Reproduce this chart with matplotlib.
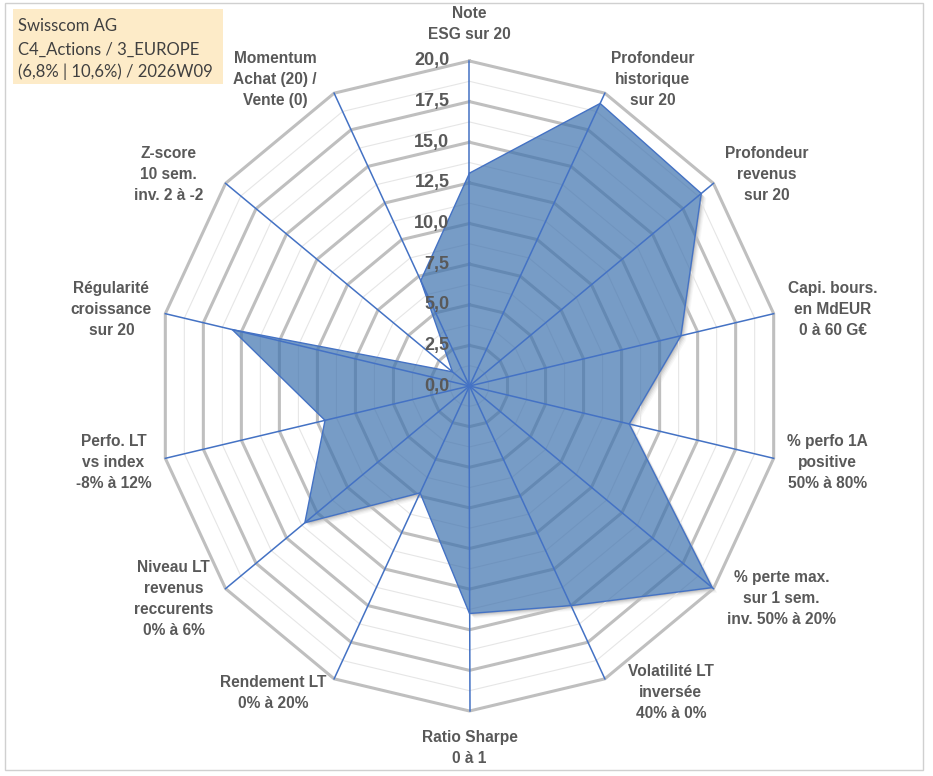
import numpy as np
import matplotlib
matplotlib.use("Agg")
import matplotlib.pyplot as plt
from matplotlib.patches import Rectangle
import matplotlib.transforms as mtransforms

# ---------------- data ----------------
categories = [
    "Note\nESG sur 20",
    "Profondeur\nhistorique\nsur 20",
    "Profondeur\nrevenus\nsur 20",
    "Capi. bours.\nen MdEUR\n0 à 60 G€",
    "% perfo 1A\npositive\n50% à 80%",
    "% perte max.\nsur 1 sem.\ninv. 50% à 20%",
    "Volatilité LT\ninversée\n40% à 0%",
    "Ratio Sharpe\n0 à 1",
    "Rendement LT\n0% à 20%",
    "Niveau LT\nrevenus\nreccurents\n0% à 6%",
    "Perfo. LT\nvs index\n-8% à 12%",
    "Régularité\ncroissance\nsur 20",
    "Z-score\n10 sem.\ninv. 2 à -2",
    "Momentum\nAchat (20) /\nVente (0)",
]
values = [13.1, 19.3, 19.0, 13.9, 10.5, 19.9, 15.0, 14.0, 7.3, 13.5, 9.5, 15.6, 1.4, 7.2]
tick_values = [0.0, 2.5, 5.0, 7.5, 10.0, 12.5, 15.0, 17.5, 20.0]
tick_labels = ["0,0", "2,5", "5,0", "7,5", "10,0", "12,5", "15,0", "17,5", "20,0"]
title_lines = ["Swisscom AG", "C4_Actions / 3_EUROPE", "(6,8% | 10,6%) / 2026W09"]

# ---------------- layout ----------------
W, H = 933, 776
CX, CY = 469.5, 386.0      # centre in pixels (from top-left)
RX, RY = 312.0, 325.0      # pixel radius of the outer ring (x / y)
RMAX = tick_values[-1]

# label centre offsets (pixels, x right / y down) from each outer corner
label_offsets = [(0, -37), (48, -14), (53, -9), (59, -4), (54, 4), (68, 10), (66, 14),
                 (0, 37), (-61, 14), (-52, 10), (-52, 4), (-54, -4), (-57, -9), (-59, -14)]

fig = plt.figure(figsize=(W / 100, H / 100), dpi=100)
fig.patch.set_facecolor("white")
ax = fig.add_axes([0, 0, 1, 1])
ax.set_xlim(-CX / RX * RMAX, (W - CX) / RX * RMAX)
ax.set_ylim(-(H - CY) / RY * RMAX, CY / RY * RMAX)
ax.set_aspect("auto")
ax.axis("off")

n = len(categories)
ang = np.arange(n) * 2 * np.pi / n
sx, cy = np.sin(ang), np.cos(ang)


def ring(r):
    return np.append(r * sx, r * sx[0]), np.append(r * cy, r * cy[0])


# minor rings
for lev in np.arange(tick_values[1] / 2, RMAX, tick_values[1]):
    x, y = ring(lev)
    ax.plot(x, y, color="#E6E6E6", lw=0.8, zorder=1)
# major rings
for lev in tick_values[1:]:
    x, y = ring(lev)
    ax.plot(x, y, color="#BFBFBF", lw=2.2, zorder=1.2, solid_joinstyle="miter")

# data polygon
v = np.array(values)
px, py = v * sx, v * cy
# soft shadow
for off, a in [(1, 0.10), (2, 0.08), (3, 0.06), (4, 0.04), (5, 0.03)]:
    tr = mtransforms.offset_copy(ax.transData, fig=fig, x=off, y=-off, units="dots")
    ax.fill(px, py, color="black", alpha=a, lw=0, transform=tr, zorder=0.5)
ax.fill(px, py, color="white", lw=0, zorder=0.7)
ax.fill(px, py, color="#3E72AE", alpha=0.7, lw=0, zorder=2)
ax.plot(np.append(px, px[0]), np.append(py, py[0]), color="#4472C4", lw=1.0, zorder=2.5)

# spokes
for i in range(n):
    ax.plot([0, RMAX * sx[i]], [0, RMAX * cy[i]], color="#4472C4", lw=1.1, zorder=3)

# radial tick labels
for tv, tl in zip(tick_values, tick_labels):
    ax.annotate(tl, xy=(0, tv), xytext=(-20, 0), textcoords="offset pixels",
                ha="right", va="center", fontsize=13, fontweight="bold",
                color="#595959", family="Liberation Sans", zorder=5)

# category labels
for i, lab in enumerate(categories):
    dx, dy = label_offsets[i]
    ax.annotate(lab, xy=(RMAX * sx[i], RMAX * cy[i]), xytext=(dx, -dy),
                textcoords="offset pixels", ha="center", va="center",
                multialignment="center", fontsize=11.2, fontweight="bold",
                color="#595959", family="Liberation Sans", linespacing=1.5, zorder=5)

# title box
def fx(p):
    return p / W


def fy(p):
    return 1 - p / H


fig.patches.append(Rectangle((fx(13), fy(84)), fx(223) - fx(13), fy(9) - fy(84),
                             transform=fig.transFigure, facecolor="#FDEBC8",
                             edgecolor="none", zorder=0))
for txt, base in zip(title_lines, [31, 54.5, 77]):
    fig.text(fx(18), fy(base), txt, ha="left", va="baseline", fontsize=12,
             family="Lato", color="#404040")

# chart border
fig.patches.append(Rectangle((fx(5), fy(770)), fx(923) - fx(5), fy(3) - fy(770),
                             transform=fig.transFigure, facecolor="none",
                             edgecolor="#D0D0D0", lw=1.0, zorder=0))

fig.savefig("out.png", dpi=100, facecolor="white")
